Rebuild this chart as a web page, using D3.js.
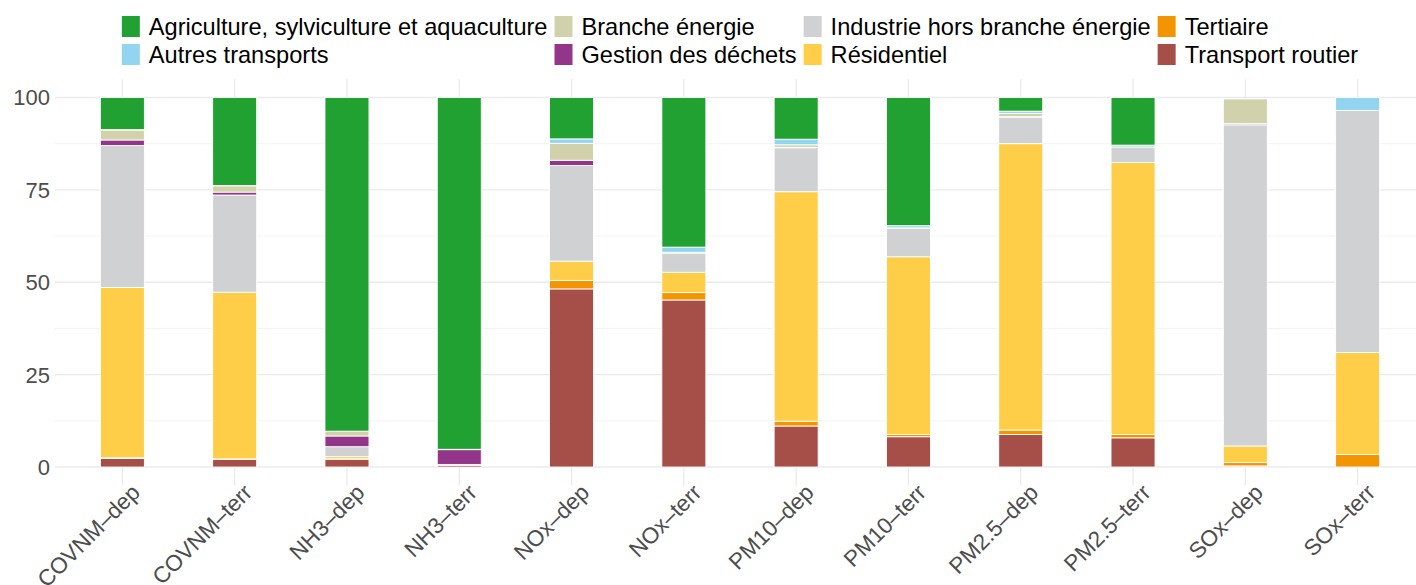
<!DOCTYPE html>
<html>
<head>
<meta charset="utf-8">
<script src="https://cdn.jsdelivr.net/npm/d3@7"></script>
<style>
  body { margin: 0; background: #fff; }
  svg { font-family: "Liberation Sans", Arial, sans-serif; }
</style>
</head>
<body>
<div class="chart"></div>
<script>
const W = 1416, H = 585;

// categories (x axis)
const categories = ["COVNM–dep", "COVNM–terr", "NH3–dep", "NH3–terr", "NOx–dep", "NOx–terr",
  "PM10–dep", "PM10–terr", "PM2.5–dep", "PM2.5–terr", "SOx–dep", "SOx–terr"];

// series values, in %, one per category
const agriculture  = [8.7, 23.8, 90.3, 95.2, 11.2, 40.5, 11.3, 34.7, 3.7, 12.9, 0.0, 0.0];
const autresTransp = [0.1, 0.1, 0.0, 0.0, 1.2, 1.4, 1.5, 0.6, 0.6, 0.5, 0.0, 3.5];
const brancheEnerg = [2.7, 1.7, 1.3, 0.1, 4.6, 0.1, 0.7, 0.05, 0.9, 0.0, 6.7, 0.0];
const gestionDech  = [1.5, 0.8, 2.9, 4.0, 1.4, 0.1, 0.1, 0.05, 0.2, 0.0, 0.3, 0.0];
const industrie    = [38.4, 26.3, 2.7, 0.1, 25.9, 5.2, 11.9, 7.7, 7.1, 4.2, 86.9, 65.5];
const residentiel  = [46.1, 45.1, 0.6, 0.1, 5.2, 5.5, 62.1, 48.1, 77.5, 73.6, 4.5, 27.6];
const tertiaire    = [0.2, 0.1, 0.1, 0.0, 2.3, 2.0, 1.3, 0.6, 1.2, 0.9, 0.9, 3.4];
const transportRt  = [2.3, 2.1, 2.1, 0.5, 48.2, 45.2, 11.1, 8.2, 8.8, 7.9, 0.3, 0.0];

const yTicks = [0, 25, 50, 75, 100];

// legend / stacking order (legend reads top to bottom of the stack)
const series = [
  { key: "Agriculture, sylviculture et aquaculture", values: agriculture, color: "#21a131" },
  { key: "Autres transports", values: autresTransp, color: "#93d4f0" },
  { key: "Branche énergie", values: brancheEnerg, color: "#d1d2ac" },
  { key: "Gestion des déchets", values: gestionDech, color: "#93368a" },
  { key: "Industrie hors branche énergie", values: industrie, color: "#d0d1d3" },
  { key: "Résidentiel", values: residentiel, color: "#fece48" },
  { key: "Tertiaire", values: tertiaire, color: "#f29500" },
  { key: "Transport routier", values: transportRt, color: "#a64e48" }
];

const table = categories.map((c, i) => {
  const row = { cat: c };
  series.forEach(s => row[s.key] = s.values[i]);
  return row;
});

const svg = d3.select(".chart").append("svg")
  .attr("width", W)
  .attr("height", H);

const panel = { left: 55, right: 1425, top: 79, bottom: 485.5 };

const xScale = d3.scalePoint()
  .domain(categories)
  .range([panel.left, panel.right])
  .padding(0.6);

const yScale = d3.scaleLinear()
  .domain([-5, 105])
  .range([panel.bottom, panel.top]);

const barW = xScale.step() * 0.392;

// grid
const grid = svg.append("g").attr("class", "grid");
d3.range(12.5, 100, 25).forEach(v => {
  grid.append("line")
    .attr("x1", panel.left).attr("x2", W)
    .attr("y1", yScale(v)).attr("y2", yScale(v))
    .attr("stroke", "#f0f0f0").attr("stroke-width", 0.8);
});
yTicks.forEach(v => {
  grid.append("line")
    .attr("x1", panel.left).attr("x2", W)
    .attr("y1", yScale(v)).attr("y2", yScale(v))
    .attr("stroke", "#ebebeb").attr("stroke-width", 1.3);
});
categories.forEach(c => {
  grid.append("line")
    .attr("x1", xScale(c)).attr("x2", xScale(c))
    .attr("y1", panel.top).attr("y2", panel.bottom)
    .attr("stroke", "#ebebeb").attr("stroke-width", 1.3);
});

// stacked bars: bottom is last legend entry
const stackKeys = series.map(s => s.key).slice().reverse();
const stacked = d3.stack().keys(stackKeys)(table);
const colorOf = d3.scaleOrdinal().domain(series.map(s => s.key)).range(series.map(s => s.color));

svg.append("g").selectAll("g")
  .data(stacked)
  .join("g")
  .attr("fill", d => colorOf(d.key))
  .selectAll("rect")
  .data(d => d)
  .join("rect")
  .attr("x", d => xScale(d.data.cat) - barW / 2)
  .attr("width", barW)
  .attr("y", d => yScale(d[1]))
  .attr("height", d => Math.max(0, yScale(d[0]) - yScale(d[1])))
  .attr("stroke", "#fff")
  .attr("stroke-width", 0.9);

// y axis labels
svg.append("g").selectAll("text")
  .data(yTicks)
  .join("text")
  .attr("x", 50)
  .attr("y", d => yScale(d))
  .attr("dy", "0.36em")
  .attr("text-anchor", "end")
  .attr("font-size", 22)
  .attr("fill", "#4d4d4d")
  .text(d => d);

// x axis labels, rotated 45°
svg.append("g").selectAll("text")
  .data(categories)
  .join("text")
  .attr("transform", d => `translate(${xScale(d) + 7},${482}) rotate(-45)`)
  .attr("text-anchor", "end")
  .attr("dy", "0.75em")
  .attr("font-size", 22.5)
  .attr("fill", "#4d4d4d")
  .text(d => d);

// legend: 2 rows, 4 columns, filled column by column
const legend = svg.append("g").attr("class", "legend");
const keyW = 18, keyH = 21, gapKT = 9, gapCol = 7;
const rowsY = [16, 44];
const nCol = 4;
const cols = d3.range(nCol).map(c => series.slice(c * 2, c * 2 + 2));

const colGroups = cols.map(items => {
  const g = legend.append("g");
  items.forEach((s, r) => {
    g.append("rect")
      .attr("x", 0).attr("y", rowsY[r])
      .attr("width", keyW).attr("height", keyH)
      .attr("fill", s.color);
    g.append("text")
      .attr("x", keyW + gapKT)
      .attr("y", rowsY[r] + keyH / 2)
      .attr("dy", "0.36em")
      .attr("font-size", 23.6)
      .attr("fill", "#000")
      .text(s.key);
  });
  return g;
});

let widths = colGroups.map(g => d3.max(g.selectAll("text").nodes(), n => n.getComputedTextLength()) + keyW + gapKT);
const total = d3.sum(widths) + gapCol * (nCol - 1);
let xPos = 740 - total / 2;
colGroups.forEach((g, i) => {
  g.attr("transform", `translate(${xPos},0)`);
  xPos += widths[i] + gapCol;
});
</script>
</body>
</html>
